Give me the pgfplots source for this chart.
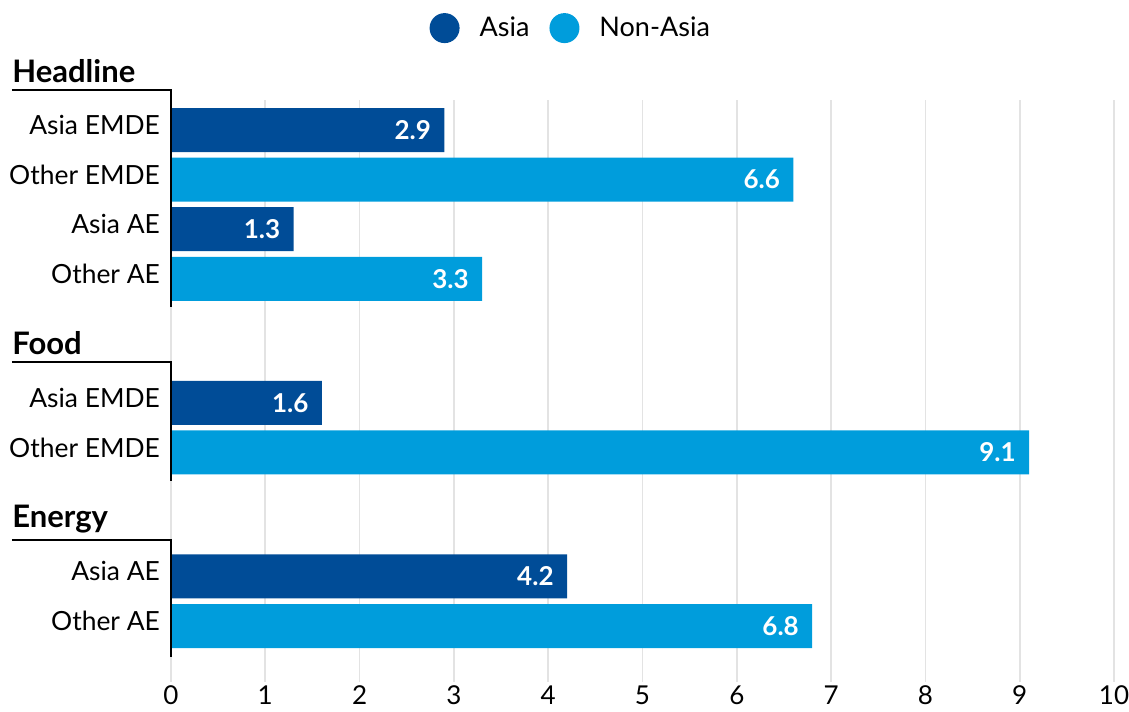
\documentclass[border=0pt]{standalone}
\usepackage{pgfplots}
\pgfplotsset{compat=1.18}
\usepackage{fontspec}
\setmainfont{Lato}
\definecolor{asia}{HTML}{004C97}
\definecolor{nonasia}{HTML}{009DDC}
\definecolor{gridc}{HTML}{E3E3E3}
\begin{document}
\begin{tikzpicture}
\begin{axis}[
  x=47.15pt, y=24.8pt, y dir=reverse,
  xmin=0, xmax=10, ymin=-0.6, ymax=11.13,
  clip=false,
  axis line style={draw=none},
  major tick length=0pt,
  xtick={0,...,10},
  xmajorgrids, grid style={gridc, line width=0.8pt},
  ytick={0,1,2,3,5.5,6.5,9,10},
  yticklabels={Asia EMDE, Other EMDE, Asia AE, Other AE, Asia EMDE, Other EMDE, Asia AE, Other AE},
  /pgf/number format/assume math mode=true,
  xticklabel style={font=\fontsize{13}{15}\selectfont, yshift=1.5pt},
  yticklabel style={font=\fontsize{13.2}{15}\selectfont, anchor=east, xshift=-2pt, yshift=2.5pt},
  xbar, bar shift=0pt, bar width=22pt,
  nodes near coords={\pgfmathprintnumber[fixed,fixed zerofill,precision=1]{\pgfplotspointmeta}},
  nodes near coords style={white, font=\bfseries\fontsize{13}{15}\selectfont, anchor=east, xshift=-3.2pt},
  legend image code/.code={\fill[#1] (0pt,0pt) circle (7.5pt); \path (15.5pt,0pt);},
  legend columns=2,
  legend style={at={(0.425,1.124)}, anchor=center, draw=none, fill=none,
    font=\fontsize{13.5}{16}\selectfont,
    /tikz/every even column/.append style={column sep=8pt}},
]
\addplot[fill=asia, draw=none] coordinates {(2.9,0) (1.3,2) (1.6,5.5) (4.2,9)};
\addlegendentry{Asia}
\addplot[fill=nonasia, draw=none] coordinates {(6.6,1) (3.3,3) (9.1,6.5) (6.8,10)};
\addlegendentry{Non-Asia}

\draw[line width=1pt] (axis cs:-1.686,-0.81) -- (axis cs:0,-0.81) -- (axis cs:0,3.57);
\draw[line width=1pt] (axis cs:-1.686,4.68) -- (axis cs:0,4.68) -- (axis cs:0,7.08);
\draw[line width=1pt] (axis cs:-1.686,8.27) -- (axis cs:0,8.27) -- (axis cs:0,10.62);
\node[anchor=base west, inner sep=0pt, font=\bfseries\fontsize{15.5}{18}\selectfont] at (axis cs:-1.686,-0.95) {Headline};
\node[anchor=base west, inner sep=0pt, font=\bfseries\fontsize{15.5}{18}\selectfont] at (axis cs:-1.686,4.52) {Food};
\node[anchor=base west, inner sep=0pt, font=\bfseries\fontsize{15.5}{18}\selectfont] at (axis cs:-1.686,8.02) {Energy};

\coordinate (bl) at (axis cs:-1.813,11.714);
\coordinate (tr) at (axis cs:10.159,-2.621);
\end{axis}
\pgfresetboundingbox
\path[use as bounding box] (bl) rectangle (tr);
\end{tikzpicture}
\end{document}
